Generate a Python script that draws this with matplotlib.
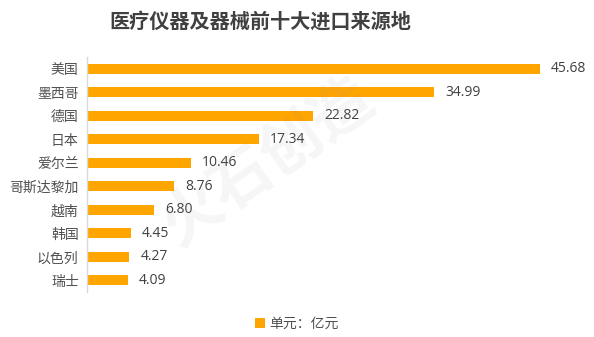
import matplotlib.pyplot as plt

plt.rcParams['font.family'] = ['Noto Sans CJK SC', 'DejaVu Sans']

countries = ['美国', '墨西哥', '德国', '日本', '爱尔兰', '哥斯达黎加', '越南', '韩国', '以色列', '瑞士']
values = [45.68, 34.99, 22.82, 17.34, 10.46, 8.76, 6.80, 4.45, 4.27, 4.09]

fig = plt.figure(figsize=(5.94, 3.37), dpi=100)
ax = fig.add_axes([0.1465, 0.1335, 0.835, 0.6975])

bars = ax.barh(range(len(countries)), values, height=0.42, color='#FFA500', label='单元：亿元')
for i, v in enumerate(values):
    ax.text(v + 1.1, i, f'{v:.2f}', va='center', ha='left', fontsize=10,
            color='#404040', family=['Open Sans', 'DejaVu Sans'])

ax.set_yticks(range(len(countries)))
ax.set_yticklabels(countries, fontsize=10, color='#505050')
ax.set_ylim(9.5, -0.5)
ax.set_xlim(0, 50)
ax.set_xticks([])
ax.tick_params(axis='y', length=0, pad=6)
for s in ['top', 'right', 'bottom']:
    ax.spines[s].set_visible(False)
ax.spines['left'].set_color('#D9D9D9')
ax.spines['left'].set_linewidth(1)

# faint watermark
fig.text(0.45, 0.52, '火石创造', fontsize=44, color='#888888', alpha=0.08,
         rotation=35, ha='center', va='center', fontweight='bold')

fig.suptitle('医疗仪器及器械前十大进口来源地', x=0.438, y=0.97, fontsize=14.5,
             fontweight='bold', color='#404040')

fig.legend(loc='center', bbox_to_anchor=(0.5, 0.04), frameon=False, fontsize=10,
           handlelength=0.7, handleheight=0.7, handletextpad=0.3, labelcolor='#505050')

fig.savefig('out.png', dpi=100)
